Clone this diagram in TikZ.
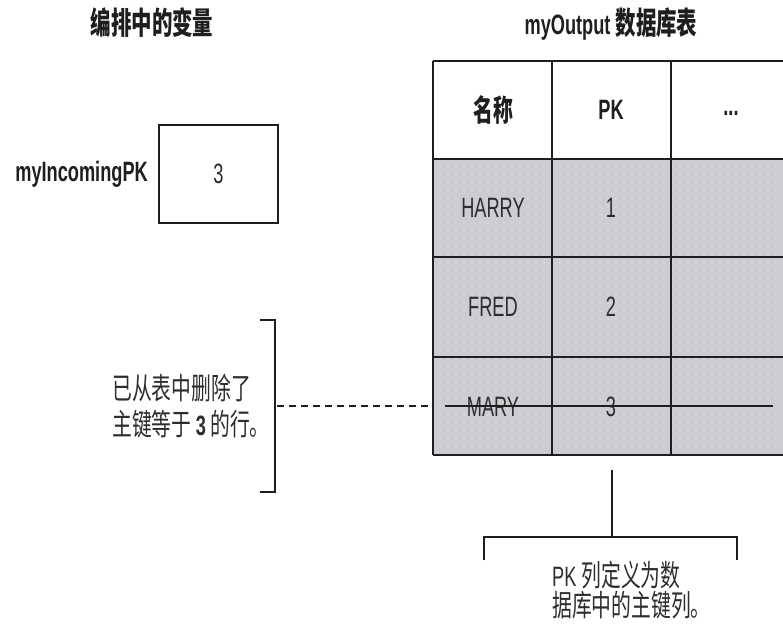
\documentclass[tikz,border=0pt]{standalone}
\usepackage{fontspec}
\setmainfont{Liberation Sans}[FakeStretch=0.65]
\newfontfamily\cjk{Noto Sans CJK SC}[FakeStretch=0.66]
\usetikzlibrary{patterns.meta}
\definecolor{cellgray}{RGB}{203,205,209}
\definecolor{ink}{RGB}{30,30,30}
\definecolor{txt}{RGB}{45,45,45}
\tikzset{
  grid/.style={line width=2.2pt, draw=ink},
  title/.style={font=\fontsize{28}{30}\selectfont\bfseries, text=ink, inner sep=0pt},
  cell/.style={font=\fontsize{28}{30}\selectfont, text=txt, inner sep=0pt},
  headcell/.style={font=\fontsize{28}{30}\selectfont\bfseries, text=ink, inner sep=0pt},
  note/.style={font=\fontsize{28}{36}\selectfont, text=txt, inner sep=0pt, align=left},
  brk/.style={line width=2pt, draw=ink},
}
\begin{document}
\begin{tikzpicture}[x=1pt,y=-1pt]
\useasboundingbox (0,0) rectangle (783,623);
% titles
\node[title] (t1) at (152,23) {\cjk\bfseries\fontsize{31}{32}\selectfont 编排中的变量};
\node[title] (t2) at (611,24) {myOutput {\cjk\bfseries\fontsize{31}{32}\selectfont 数据库表}};
% variable box
\node[headcell, anchor=east] (lbl) at (148,174) {myIncomingPK};
\node[draw=ink, line width=2pt, minimum width=119pt, minimum height=98pt, inner sep=0pt, font=\fontsize{28}{30}\selectfont, text=txt] (box) at (218.5,174) {3};
% table fill
\fill[cellgray] (433,159) rectangle (783,455);
\fill[pattern={Dots[radius=0.7pt,distance=8pt]}, pattern color=white!85!cellgray] (433,159) rectangle (783,455);
% table grid
\coordinate (tl) at (433,61);
\coordinate (bl) at (433,455);
\draw[grid] (433,61) -- (783,61);
\draw[grid] (433,159) -- (783,159);
\draw[grid] (433,257) -- (783,257);
\draw[grid] (433,357) -- (783,357);
\draw[grid] (433,455) -- (783,455);
\draw[grid] (tl) -- (bl);
\draw[grid] (552,61) -- (552,455);
\draw[grid] (671,61) -- (671,455);
% header
\node[headcell] (h1) at (493,110) {\cjk\bfseries\fontsize{30}{32}\selectfont 名称};
\node[headcell] (h2) at (611,110) {PK};
\node[headcell] (h3) at (731,113) {...};
% rows
\node[cell] (r1a) at (493,208) {HARRY};
\node[cell] (r1b) at (611,208) {1};
\node[cell] (r2a) at (493,307) {FRED};
\node[cell] (r2b) at (611,307) {2};
\node[cell] (r3a) at (493,407) {MARY};
\node[cell] (r3b) at (611,407) {3};
\coordinate (s1) at (445,406);
\coordinate (s2) at (773,406);
\draw[line width=2pt, draw=ink] (s1) -- (s2);
% left bracket + note
\draw[brk] (260,320) -- (275,320) -- (275,492) -- (260,492);
\coordinate (lb) at (277,406);
\coordinate (tt) at (433,406);
\draw[line width=2.2pt, draw=ink, dash pattern=on 7pt off 5pt] (lb) -- (tt);
\node[note, anchor=north west] (n1) at (112,374) {\cjk\fontsize{30}{36}\selectfont 已从表中删除了\\\cjk\fontsize{30}{36}\selectfont 主键等于 {\normalfont\bfseries\fontsize{28}{36}\selectfont 3} 的行。};
% bottom bracket + note
\coordinate (bt) at (612,470);
\coordinate (bm) at (612,537);
\draw[brk] (bt) -- (bm);
\draw[brk] (484,560) -- (484,537) -- (737,537) -- (737,560);
\node[note, anchor=north west, font=\fontsize{28}{30}\selectfont] (n2) at (552,561) {PK {\cjk\fontsize{30}{30}\selectfont 列定义为数}\\\cjk\fontsize{30}{30}\selectfont 据库中的主键列。};
\end{tikzpicture}
\end{document}
